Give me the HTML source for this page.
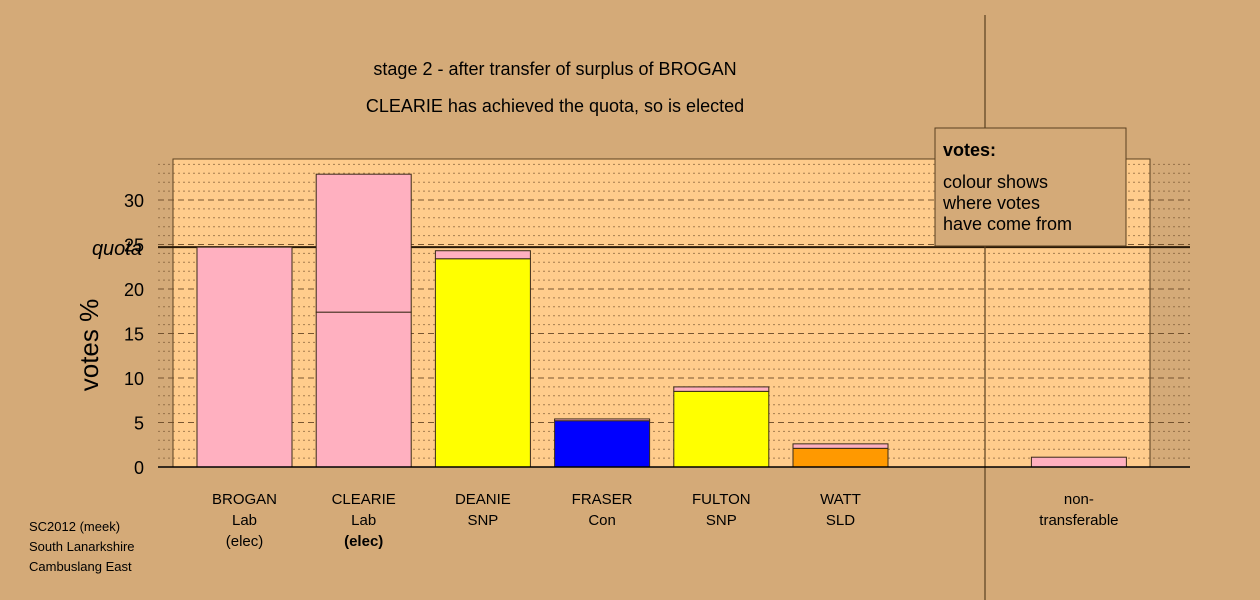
<!DOCTYPE html>
<html><head><meta charset="utf-8"><style>
html,body{margin:0;padding:0;background:#d4aa78;}
svg{display:block;font-family:"Liberation Sans",Arial,sans-serif;}
</style></head><body>
<svg id="chart" width="1260" height="600" viewBox="0 0 1260 600">
<rect x="0" y="0" width="1260" height="600" fill="#d4aa78"/>
<g id="plot"></g>
<text x="555" y="75" font-size="18" text-anchor="middle" fill="#000">stage 2 - after transfer of surplus of BROGAN</text>
<text x="555" y="112" font-size="18" text-anchor="middle" fill="#000">CLEARIE has achieved the quota, so is elected</text>
<text x="98" y="345" font-size="26" text-anchor="middle" fill="#000" transform="rotate(-90 98 345)">votes %</text>
<g font-size="13" fill="#000">
<text x="29" y="531">SC2012 (meek)</text>
<text x="29" y="551">South Lanarkshire</text>
<text x="29" y="571">Cambuslang East</text>
</g>
</svg>
<script>
const candidates=["BROGAN","CLEARIE","DEANIE","FRASER","FULTON","WATT","","non-transferable"];
const parties=["Lab","Lab","SNP","Con","SNP","SLD","",""];
const status=["(elec)","(elec)","","","","","",""];
const baseVotes=[24.7,17.4,23.4,5.2,8.5,2.1,0,0];
const baseColors=["#ffb0c0","#ffb0c0","#ffff00","#0000ff","#ffff00","#ff9900","#ffb0c0","#ffb0c0"];
const transferVotes=[0,15.5,0.9,0.2,0.5,0.5,0,1.1];
const yTicks=[0,5,10,15,20,25,30];
const quota=24.7;

const NS="http://www.w3.org/2000/svg";
const g=document.getElementById("plot");
const y0=467, pxPer=8.9;
function yScale(v){return y0-v*pxPer;}
function xLeft(i){return 197+i*119.2;}
const barW=95;
function mk(tag,attrs,parent){const e=document.createElementNS(NS,tag);for(const k in attrs)e.setAttribute(k,attrs[k]);(parent||g).appendChild(e);return e;}

let pa=mk("rect",{x:173,y:159,width:977,height:308,fill:"#ffcc8c",stroke:"#5a4020","stroke-width":1});


for(let v=1;v<=34;v++){
  const dashed=v%5===0;
  let l=mk("line",{x1:158,x2:1190,y1:yScale(v),y2:yScale(v),stroke:"#6a4a28","stroke-width":1,"stroke-dasharray":dashed?"6,4":"2,3",opacity:dashed?0.9:0.6});
  
  
}
let ql=mk("line",{x1:158,x2:1190,y1:yScale(quota),y2:yScale(quota),stroke:"#2a1a08","stroke-width":2});


let qt=mk("text",{x:142,y:yScale(quota)+8,"font-size":20,"font-style":"italic","text-anchor":"end"});
qt.textContent="quota";


yTicks.forEach(t=>{
  let tx=mk("text",{x:144,y:yScale(t)+7,"font-size":18,"text-anchor":"end"});
  tx.textContent=t;
  
  
});
let vl=mk("line",{x1:985,x2:985,y1:15,y2:600,stroke:"#5a4020","stroke-width":1.2});



candidates.forEach((c,i)=>{
  const x=xLeft(i);
  const b=baseVotes[i], t=transferVotes[i];
  if(b+t<=0) return;
  let r1=mk("rect",{x:x,y:yScale(b),width:barW,height:b*pxPer,fill:baseColors[i],stroke:"#3a2a18","stroke-width":1});
  
  
  if(t>0){
    let r2=mk("rect",{x:x,y:yScale(b+t),width:barW,height:t*pxPer,fill:"#ffb0c0",stroke:"#3a2a18","stroke-width":1});
    
    
  }
});
let ax=mk("line",{x1:158,x2:1190,y1:y0,y2:y0,stroke:"#000","stroke-width":1.5});



candidates.forEach((c,i)=>{
  if(!c) return;
  const cx=xLeft(i)+barW/2;
  let lines = c==="non-transferable" ? ["non-","transferable"] : [c,parties[i],status[i]];
  lines.forEach((s,k)=>{
    if(!s) return;
    let tx=mk("text",{x:cx,y:504+k*21,"font-size":15,"text-anchor":"middle","font-weight":(i===1&&k===2)?"bold":"normal"});
    tx.textContent=s;
    
    
  });
});

let lg=mk("g",{});


mk("rect",{x:935,y:128,width:191,height:118,fill:"#d4aa78",stroke:"#5a4020","stroke-width":1},lg);
let lt=mk("text",{x:943,y:156,"font-size":18,"font-weight":"bold"},lg);lt.textContent="votes:";
["colour shows","where votes","have come from"].forEach((s,k)=>{let t=mk("text",{x:943,y:188+k*21,"font-size":18},lg);t.textContent=s;});
</script>
</body></html>
